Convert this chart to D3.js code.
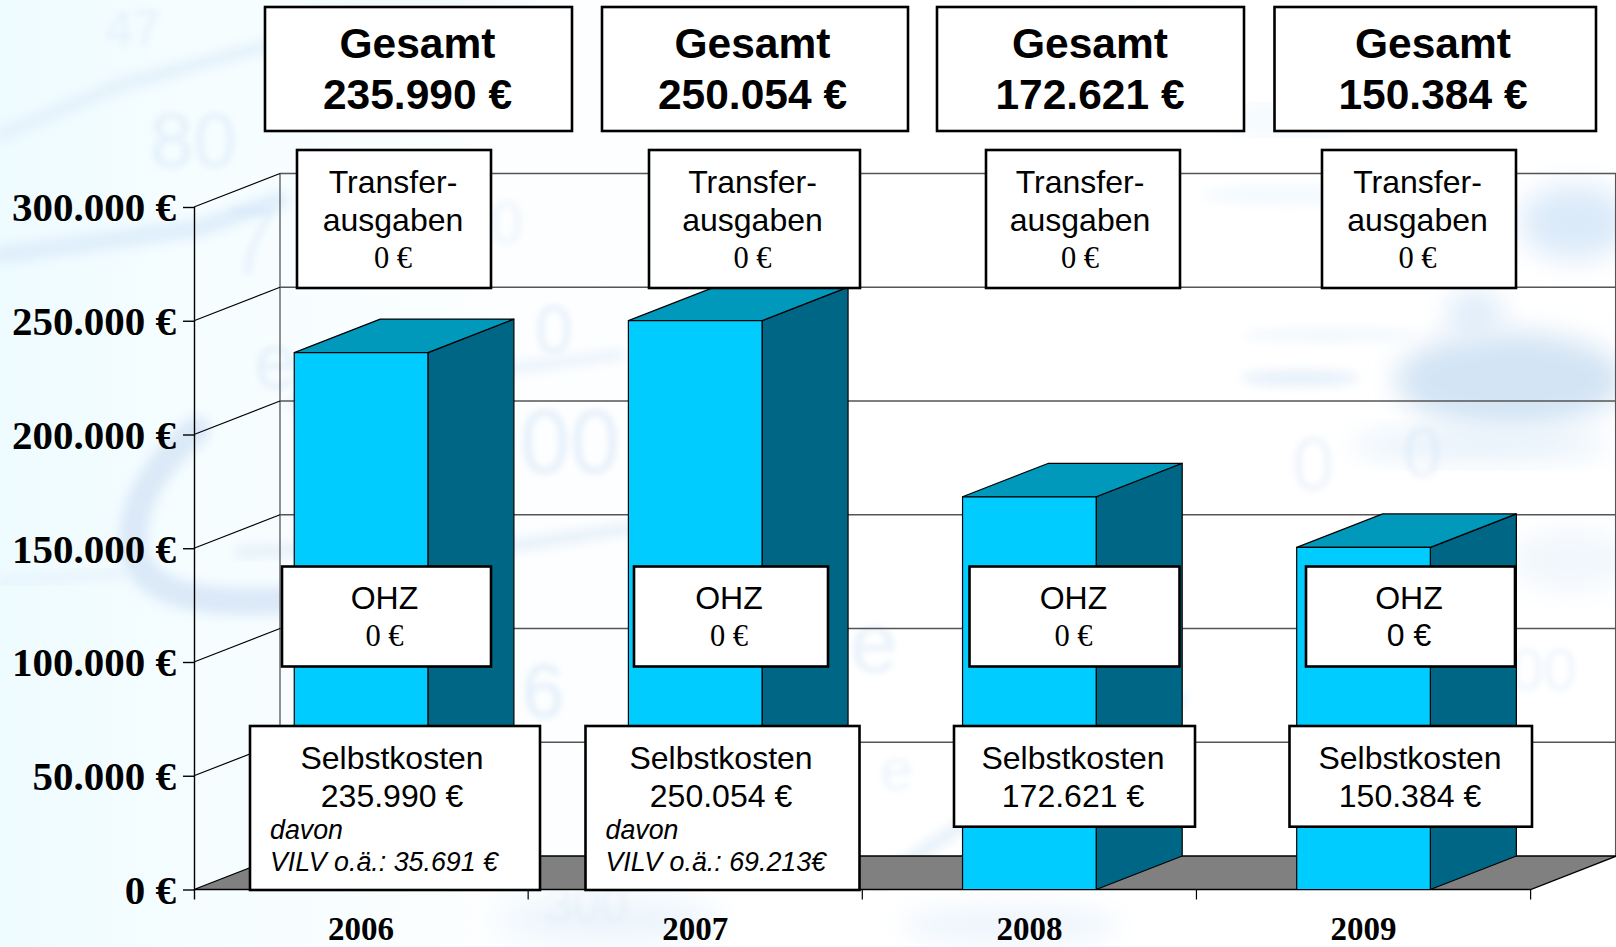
<!DOCTYPE html>
<html><head><meta charset="utf-8">
<script src="https://cdn.jsdelivr.net/npm/d3@7/dist/d3.min.js"></script>
<style>html,body{margin:0;padding:0;background:#f4fcff;overflow:hidden}svg{display:block}</style>
</head><body><svg id="c" width="1616" height="947"></svg>
<script>
// ---- data ----
const years = ["2006","2007","2008","2009"];
const totals = [235990,250054,172621,150384];
const transfer = [0,0,0,0];
const ohz = [0,0,0,0];
const selbstkosten = [235990,250054,172621,150384];
const vilv = ["VILV o.ä.: 35.691 €","VILV o.ä.: 69.213€",null,null];
const yTicks = [0,50000,100000,150000,200000,250000,300000];

// ---- layout ----
const W=1616,H=947;
const plot={left:194,right:1530.6,top:207,bottom:889.5,dx:86,dy:33.5};
const gesamtBoxes=[[265,572,417.5],[602,908,752.5],[937,1244,1090],[1274.5,1596,1433]];
const transferBoxes=[[297,491,393],[649,860,752.5],[986,1180,1080],[1322,1516,1417.5]];
const ohzBoxes=[[282,491,384.5],[634,828,729],[969.5,1179.5,1073.5],[1306,1515,1409]];
const selbstBoxes=[[250,540,392,890],[585.5,859.5,721,890],[954,1195,1073,826.7],[1289.5,1532,1410,826.7]];
const sans="'Liberation Sans',Arial,sans-serif", serif="'Liberation Serif','Times New Roman',serif";

const num=d3.formatLocale({decimal:",",thousands:".",grouping:[3],currency:["","\u00a0€"]}).format(",");
const euro=v=>num(v)+" €";

const svg=d3.select("#c");
const x=d3.scaleBand().domain(years).range([plot.left,plot.right]).paddingInner(0.6).paddingOuter(0.3);
const y=d3.scaleLinear().domain([0,300000]).range([plot.bottom,plot.top]);
const edges=d3.range(years.length+1).map(i=>plot.left+i*x.step());

// ---- background: soft watermark of a price table ----
const defs=svg.append("defs");
const grad=defs.append("linearGradient").attr("id","bgGrad").attr("x1",0).attr("x2",1).attr("y1",0).attr("y2",0);
[[0,"#eefbff"],[0.12,"#f5fdff"],[0.3,"#fcfeff"],[0.5,"#ffffff"],[1,"#ffffff"]].forEach(s=>grad.append("stop").attr("offset",s[0]).attr("stop-color",s[1]));
const blur=(id,s)=>defs.append("filter").attr("id",id).attr("x","-40%").attr("y","-40%").attr("width","180%").attr("height","180%").append("feGaussianBlur").attr("stdDeviation",s);
blur("b0",3); blur("b1",6); blur("b2",14);
svg.append("rect").attr("width",W).attr("height",H).attr("fill","url(#bgGrad)");
const bg=svg.append("g");
const blobs=[
 [1510,380,115,48,"#d3e4f4","b2"],[1475,315,28,26,"#dfecf9","b2"],[1575,222,55,38,"#dbeaf9","b2"],
 [1480,445,130,14,"#e4f0fa","b2"],[1300,378,60,8,"#e6f0fa","b1"],[1330,335,90,7,"#f2f8fd","b1"],
 [1290,195,90,10,"#f3f9fe","b1"],[1130,30,90,16,"#eef9fe","b2"],[1290,120,70,10,"#eaf6fd","b2"],
 [420,8,120,8,"#e8f6fd","b2"],[610,920,110,22,"#ecf4fc","b2"],[1010,925,110,18,"#ecf4fc","b2"],
 [1570,560,60,30,"#f1f7fc","b2"]];
bg.selectAll("ellipse").data(blobs).join("ellipse")
 .attr("cx",d=>d[0]).attr("cy",d=>d[1]).attr("rx",d=>d[2]).attr("ry",d=>d[3]).attr("fill",d=>d[4]).attr("filter",d=>`url(#${d[5]})`);
const strokes=[
 ["M0,135 L120,85 L270,45",13,"#e3f1fb"],["M0,255 L110,240 L200,228 L280,200",18,"#dfeefb"],
 ["M196,430 C150,470 128,510 134,555 C150,600 215,605 290,600",28,"#dbe9f8"],
 ["M0,582 L130,572",8,"#e4f1fa"],["M240,552 L420,545 L520,545 L630,528",11,"#e4eff9"],
 ["M290,405 C360,385 480,372 620,355",9,"#e6f1fa"],
 ["M880,880 L1000,800 L1180,700",12,"#e4eff9"]];
bg.selectAll("path.s").data(strokes).join("path").attr("class","s").attr("d",d=>d[0]).attr("fill","none")
 .attr("stroke-width",d=>d[1]).attr("stroke",d=>d[2]).attr("stroke-linecap","round").attr("filter","url(#b1)");
const wm=[["47",105,46,50,.4],["80",150,167,78,.45],["7",226,274,96,.35],["0",490,243,60,.3],["0",535,353,68,.5],["e",254,388,78,.45],
 ["00",520,473,90,.5],["6",522,717,76,.55],["e",850,672,86,.45],["300",545,922,50,.3],["0",1292,490,76,.35],["0",1403,477,70,.4],["00",1510,690,60,.35],["e",880,790,60,.35]];
bg.selectAll("text").data(wm).join("text").text(d=>d[0]).attr("x",d=>d[1]).attr("y",d=>d[2])
 .attr("font-family",sans).attr("font-size",d=>d[3]).attr("fill","#cfe1f5").attr("opacity",d=>d[4]).attr("filter","url(#b0)");

// ---- 3D frame ----
const frame=svg.append("g");
frame.selectAll("line.grid").data(yTicks.slice(1)).join("line").attr("class","grid")
 .attr("x1",plot.left+plot.dx).attr("x2",W).attr("y1",d=>y(d)-plot.dy).attr("y2",d=>y(d)-plot.dy)
 .attr("stroke","#555").attr("stroke-width",1.3);
[plot.left+plot.dx,plot.right+plot.dx-1].forEach(px=>frame.append("line").attr("x1",px).attr("x2",px).attr("y1",plot.top-plot.dy).attr("y2",plot.bottom-plot.dy).attr("stroke","#555").attr("stroke-width",1.3));
frame.selectAll("line.diag").data(yTicks.slice(1)).join("line").attr("class","diag")
 .attr("x1",plot.left).attr("x2",plot.left+plot.dx).attr("y1",d=>y(d)).attr("y2",d=>y(d)-plot.dy).attr("stroke","#000").attr("stroke-width",1.2);
frame.append("polygon").attr("points",[[plot.left,plot.bottom],[plot.left+plot.dx,plot.bottom-plot.dy],[plot.right+plot.dx,plot.bottom-plot.dy],[plot.right,plot.bottom]].join(" "))
 .attr("fill","#808080").attr("stroke","#000").attr("stroke-width",1.3);

// ---- axes ----
const yAxis=svg.append("g").attr("transform",`translate(${plot.left},0)`)
 .call(d3.axisLeft(y).tickValues(yTicks).tickFormat(euro).tickSize(11).tickPadding(7));
yAxis.selectAll("path,line").attr("stroke","#000").attr("stroke-width",1.4);
yAxis.selectAll("text").attr("font-family",serif).attr("font-weight","bold").attr("font-size",41).attr("fill","#000").attr("dy","0.34em");
yAxis.select("path.domain").attr("d",`M0.5,${y(300000)}V${y(0)+10}`);
svg.selectAll("line.xt").data(edges.slice(1)).join("line").attr("class","xt")
 .attr("x1",d=>d).attr("x2",d=>d).attr("y1",plot.bottom).attr("y2",plot.bottom+10).attr("stroke","#000").attr("stroke-width",1.2);
const xAxis=svg.append("g").attr("transform",`translate(0,${plot.bottom})`)
 .call(d3.axisBottom(x).tickSize(0).tickPadding(27.5));
xAxis.select(".domain").remove();
xAxis.selectAll("text").attr("font-family",serif).attr("font-weight","bold").attr("font-size",33).attr("fill","#000");

// ---- bars ----
const bars=svg.selectAll("g.bar").data(years.map((yr,i)=>({yr,v:totals[i]}))).join("g").attr("class","bar");
const sty=s=>s.attr("stroke","#000").attr("stroke-width",1.2).attr("stroke-linejoin","round");
bars.append("polygon").attr("fill","#006685").call(sty).attr("points",d=>{
  const r=x(d.yr)+x.bandwidth(),t=y(d.v),b=y(0);
  return [[r,t],[r+plot.dx,t-plot.dy],[r+plot.dx,b-plot.dy],[r,b]].join(" ");});
bars.append("polygon").attr("fill","#0099BB").call(sty).attr("points",d=>{
  const l=x(d.yr),r=l+x.bandwidth(),t=y(d.v);
  return [[l,t],[l+plot.dx,t-plot.dy],[r+plot.dx,t-plot.dy],[r,t]].join(" ");});
bars.append("rect").attr("fill","#00CCFF").call(sty)
  .attr("x",d=>x(d.yr)).attr("width",x.bandwidth()).attr("y",d=>y(d.v)).attr("height",d=>y(0)-y(d.v));

// ---- annotation boxes ----
function box(x0,x1,y0,y1,lines,cx){
  const g=svg.append("g");
  g.append("rect").attr("x",x0).attr("y",y0).attr("width",x1-x0).attr("height",y1-y0)
   .attr("fill","#fff").attr("stroke","#000").attr("stroke-width",2.6);
  lines.forEach(l=>{
    g.append("text").text(l.t).attr("x",l.left!=null?l.left:cx).attr("y",l.y)
     .attr("text-anchor",l.left!=null?"start":"middle").attr("font-family",l.serif?serif:sans)
     .attr("font-size",l.s).attr("font-weight",l.b?"bold":"normal").attr("font-style",l.i?"italic":"normal").attr("fill","#000");
  });
}
years.forEach((yr,i)=>{
  const G=gesamtBoxes[i];
  box(G[0],G[1],7,131,[{t:"Gesamt",y:58,s:42.5,b:1},{t:euro(totals[i]),y:109,s:42.5,b:1}],G[2]);
  const T=transferBoxes[i];
  box(T[0],T[1],150,288,[{t:"Transfer-",y:193,s:32},{t:"ausgaben",y:230.5,s:32},{t:euro(transfer[i]),y:268,s:30.5,serif:1}],T[2]);
  const O=ohzBoxes[i];
  box(O[0],O[1],566.5,666.5,[{t:"OHZ",y:609,s:32},i<3?{t:euro(ohz[i]),y:646,s:30.5,serif:1}:{t:euro(ohz[i]),y:646,s:32}],O[2]);
  const S=selbstBoxes[i];
  const lines=[{t:"Selbstkosten",y:769,s:32},{t:euro(selbstkosten[i]),y:807,s:32}];
  if(vilv[i]){lines.push({t:"davon",y:839,s:26.8,i:1,left:S[0]+20},{t:vilv[i],y:871,s:26.8,i:1,left:S[0]+20});}
  box(S[0],S[1],726,S[3],lines,S[2]);
});
</script></body></html>
